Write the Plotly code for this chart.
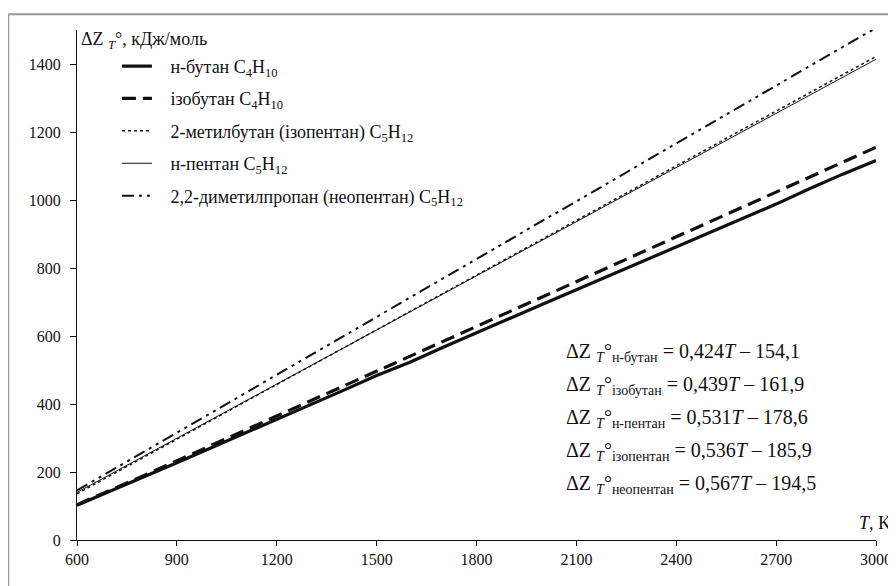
import plotly.graph_objects as go

T = [600, 700, 800, 900, 1000, 1100, 1200, 1300, 1400, 1500, 1600, 1700, 1800,
     1900, 2000, 2100, 2200, 2300, 2400, 2500, 2600, 2700, 2800, 2900, 3000]

n_butane = [102, 143, 185, 227, 270, 312, 355, 397, 440, 484, 523, 567, 610,
            652, 694, 736, 778, 822, 864, 906, 948, 988, 1033, 1076, 1116]
isobutane = [104, 146, 189, 233, 277, 321, 365, 409, 453, 497, 540, 584, 628,
             672, 716, 760, 804, 848, 892, 935, 979, 1023, 1067, 1111, 1155]
isopentane = [136, 189, 243, 296, 350, 404, 457, 511, 565, 618, 672, 725, 779,
              832, 886, 940, 993, 1047, 1100, 1154, 1208, 1261, 1315, 1368, 1422]
n_pentane = [140, 193, 246, 299, 352, 405, 459, 512, 565, 618, 671, 724, 777,
             830, 883, 936, 990, 1043, 1096, 1149, 1202, 1255, 1308, 1361, 1414]
neopentane = [146, 202, 259, 316, 372, 429, 486, 543, 599, 656, 713, 769, 826,
              883, 940, 996, 1053, 1110, 1166, 1223, 1280, 1336, 1393, 1450, 1506]

names = [
    "н-бутан C<sub>4</sub>H<sub>10</sub>",
    "ізобутан C<sub>4</sub>H<sub>10</sub>",
    "2-метилбутан (ізопентан) C<sub>5</sub>H<sub>12</sub>",
    "н-пентан C<sub>5</sub>H<sub>12</sub>",
    "2,2-диметилпропан (неопентан) C<sub>5</sub>H<sub>12</sub>",
]
series = [n_butane, isobutane, isopentane, n_pentane, neopentane]

equations = [
    "ΔZ <sub><i>T</i></sub>°<sub>н-бутан</sub> = 0,424<i>T</i> – 154,1",
    "ΔZ <sub><i>T</i></sub>°<sub>ізобутан</sub> = 0,439<i>T</i> – 161,9",
    "ΔZ <sub><i>T</i></sub>°<sub>н-пентан</sub> = 0,531<i>T</i> – 178,6",
    "ΔZ <sub><i>T</i></sub>°<sub>ізопентан</sub> = 0,536<i>T</i> – 185,9",
    "ΔZ <sub><i>T</i></sub>°<sub>неопентан</sub> = 0,567<i>T</i> – 194,5",
]

styles = [
    dict(color="#111", width=3.2, dash="solid"),
    dict(color="#111", width=3.2, dash="14px,7px"),
    dict(color="#111", width=1.5, dash="3px,3px"),
    dict(color="#111", width=1, dash="solid"),
    dict(color="#111", width=2, dash="12px,5px,3px,5px,3px,5px"),
]

fig = go.Figure()
for i, (nm, ys, st) in enumerate(zip(names, series, styles)):
    fig.add_trace(go.Scatter(x=T, y=ys, mode="lines", name="&nbsp;&nbsp;&nbsp;" + nm, line=st,
                             legendgroup=f"g{i}"))

FONT = "Liberation Serif, Times New Roman, serif"
fig.update_layout(
    width=896, height=586,
    margin=dict(l=69, r=25, t=22, b=54),
    paper_bgcolor="white", plot_bgcolor="white",
    font=dict(family=FONT, size=16, color="#111"),
    showlegend=True,
    legend=dict(x=0.05, y=0.965, xanchor="left", yanchor="top",
                bgcolor="rgba(0,0,0,0)", traceorder="grouped",
                tracegroupgap=6, font=dict(family=FONT, size=18, color="#111")),
    xaxis=dict(range=[600, 3000], tickvals=[600, 900, 1200, 1500, 1800, 2100, 2400, 2700, 3000],
               showgrid=False, zeroline=False, showline=True, linecolor="#111", linewidth=1,
               ticks="outside", ticklen=5, tickcolor="#111",
               tickfont=dict(family=FONT, size=16, color="#111")),
    yaxis=dict(range=[0, 1500], tickvals=[0, 200, 400, 600, 800, 1000, 1200, 1400],
               showgrid=False, zeroline=False, showline=True, linecolor="#111", linewidth=1,
               ticks="outside", ticklen=6, tickcolor="#111", ticklabelstandoff=6,
               tickfont=dict(family=FONT, size=16, color="#111")),
)

annots = [
    dict(text="ΔZ <sub><i>T</i></sub>°, кДж/моль", x=0.003, y=1.005, xref="paper", yref="paper",
         xanchor="left", yanchor="top", showarrow=False, font=dict(family=FONT, size=18)),
    dict(text="<i>T</i>, K", x=1.021, y=0.0, xref="paper", yref="paper",
         xanchor="right", yanchor="bottom", yshift=5, showarrow=False, font=dict(family=FONT, size=18)),
]
for k, eq in enumerate(equations):
    annots.append(dict(text=eq, x=0.61, y=0.367 - k * 0.0647, xref="paper", yref="paper",
                       xanchor="left", yanchor="middle", showarrow=False,
                       font=dict(family=FONT, size=20)))
fig.update_layout(annotations=annots)

# figure frame (gray border seen at top and left)
fig.add_shape(type="line", xref="paper", yref="paper", x0=-0.086, x1=1.04, y0=1.031, y1=1.031,
              line=dict(color="#999", width=2), layer="above")
fig.add_shape(type="line", xref="paper", yref="paper", x0=-0.086, x1=-0.086, y0=-0.12, y1=1.031,
              line=dict(color="#999", width=2), layer="above")

fig.write_html("out.html")
